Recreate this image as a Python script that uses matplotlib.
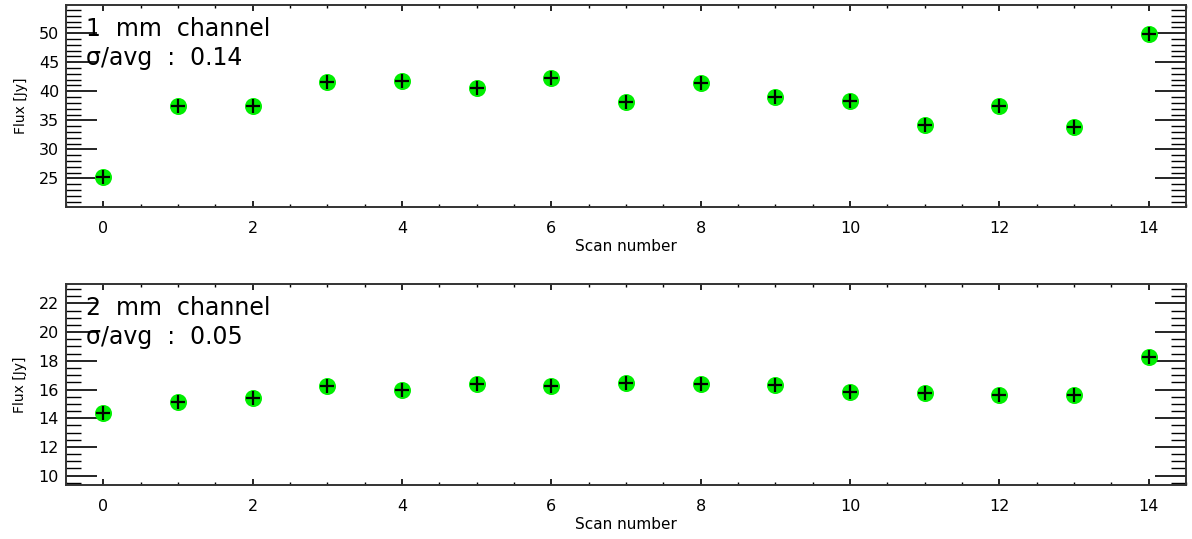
import matplotlib.pyplot as plt
from matplotlib.ticker import MultipleLocator

# Flux per scan
scans = list(range(15))
flux_1mm = [25.3, 37.5, 37.5, 41.6, 41.8, 40.6, 42.3, 38.1, 41.4, 39.0, 38.4, 34.2, 37.4, 33.8, 49.8]
flux_2mm = [14.35, 15.1, 15.4, 16.25, 16.0, 16.38, 16.27, 16.43, 16.4, 16.33, 15.85, 15.77, 15.6, 15.6, 18.28]
labels = ["1  mm  channel", "2  mm  channel"]
ratios = ["σ/avg  :  0.14", "σ/avg  :  0.05"]

fig = plt.figure(figsize=(11.92, 5.39), dpi=100)
ax1 = fig.add_axes([0.0554, 0.616, 0.9396, 0.3753])
ax2 = fig.add_axes([0.0554, 0.1002, 0.9396, 0.3729])

settings = [
    (ax1, flux_1mm, (20.1, 54.9), 5, 1),
    (ax2, flux_2mm, (9.35, 23.35), 2, 0.5),
]

for i, (ax, flux, ylim, ymaj, ymin) in enumerate(settings):
    ax.scatter(scans, flux, s=150, color='#00ee00', zorder=2, linewidths=0)
    ax.scatter(scans, flux, s=110, marker='+', color='black', linewidths=1.6, zorder=3)
    ax.set_xlim(-0.5, 14.5)
    ax.set_ylim(*ylim)
    ax.xaxis.set_major_locator(MultipleLocator(2))
    ax.xaxis.set_minor_locator(MultipleLocator(0.5))
    ax.yaxis.set_major_locator(MultipleLocator(ymaj))
    ax.yaxis.set_minor_locator(MultipleLocator(ymin))
    ax.tick_params(axis='x', which='major', direction='in', length=4, width=1.2,
                   top=True, bottom=True, labelsize=11.5, pad=10)
    ax.tick_params(axis='x', which='minor', direction='in', length=2, width=1.0,
                   top=True, bottom=True)
    ax.tick_params(axis='y', which='major', direction='in', length=22, width=1.2,
                   left=True, right=True, labelsize=11.5, pad=5)
    ax.tick_params(axis='y', which='minor', direction='in', length=11, width=1.0,
                   left=True, right=True)
    for sp in ax.spines.values():
        sp.set_color('#333333')
        sp.set_linewidth(1.4)
    ax.set_xlabel('Scan number', fontsize=11, labelpad=2)
    ax.set_ylabel('Flux [Jy]', fontsize=10, labelpad=8)
    ax.text(0.018, 0.88, labels[i], transform=ax.transAxes, fontsize=17,
            va='center', ha='left')
    ax.text(0.018, 0.735, ratios[i], transform=ax.transAxes, fontsize=17,
            va='center', ha='left')

fig.savefig('out.png', dpi=100)
